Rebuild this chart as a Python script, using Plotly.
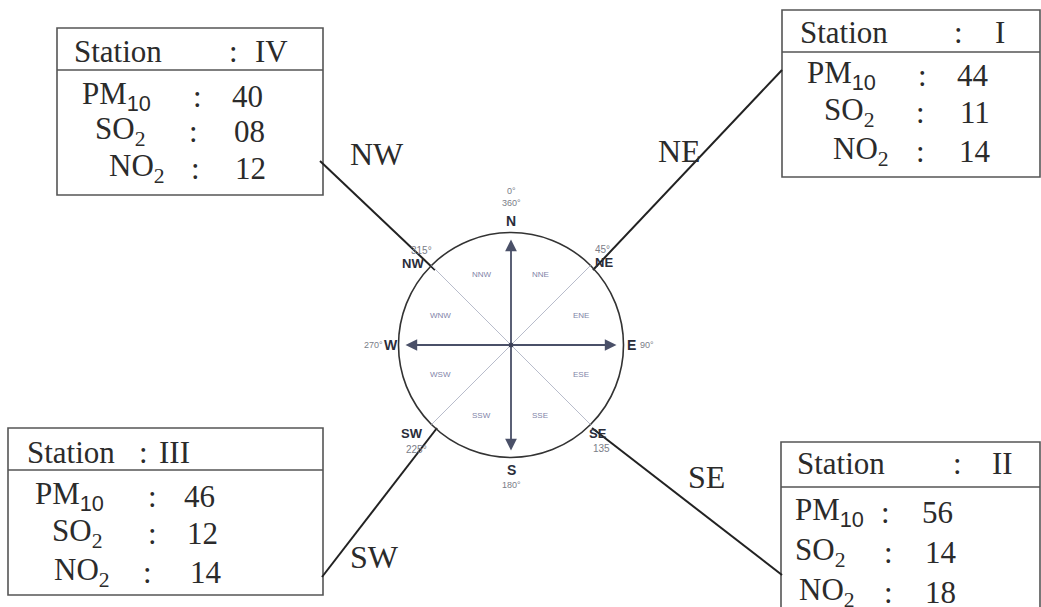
import math
import plotly.graph_objects as go

# ---------------- data ----------------
stations = ["I", "II", "III", "IV"]
directions = ["NE", "SE", "SW", "NW"]
pm10 = [44, 56, 46, 40]
so2 = [11, 14, 12, 8]
no2 = [14, 18, 14, 12]

cardinal_labels = ["N", "E", "S", "W"]
cardinal_bearings = [0, 90, 180, 270]
cardinal_degree_text = ["0°<br>360°", "90°", "180°", "270°"]
intercardinal_labels = ["NE", "SE", "SW", "NW"]
intercardinal_bearings = [45, 135, 225, 315]
intercardinal_degree_text = ["45°", "135", "225°", "315°"]
sector_labels = ["NNE", "ENE", "ESE", "SSE", "SSW", "WSW", "WNW", "NNW"]
sector_bearings = [22.5, 67.5, 112.5, 157.5, 202.5, 247.5, 292.5, 337.5]

# ---------------- layout (positions / styles) ----------------
W, H = 1041, 607
CX, CY, R = 511, 345, 112.5
SERIF = "Liberation Serif, Times New Roman, serif"
SANS = "Liberation Sans, Arial, sans-serif"
INK = "#2b2b2b"
BOX = "#555555"

box_geo = {
    "I":   dict(rect=(782, 10, 1040, 177), hline=52,
                head=(798, 958, 993, 32),
                rows=[(805, 922, 955, 75), (822, 920, 958, 112), (831, 920, 957, 151)],
                link=((782, 70), (593, 270)), dlab=(679, 151)),
    "II":  dict(rect=(781, 442, 1040, 640), hline=487,
                head=(795, 957, 990, 463),
                rows=[(793, 885, 920, 512), (793, 888, 923, 552), (797, 888, 923, 592)],
                link=((782, 575), (592, 428)), dlab=(706, 477)),
    "III": dict(rect=(8, 428, 323, 595), hline=470,
                head=(25, 143, 157, 452),
                rows=[(33, 152, 182, 496), (50, 152, 185, 533), (52, 147, 188, 572)],
                link=((322, 577), (437, 428)), dlab=(374, 557)),
    "IV":  dict(rect=(57, 28, 323, 195), hline=70,
                head=(72, 233, 253, 51),
                rows=[(80, 197, 230, 96), (93, 193, 232, 131), (107, 195, 233, 168)],
                link=((320, 161), (435, 270)), dlab=(377, 154)),
}

FS = 31
sub = lambda s: "<sub>" + s + "</sub>"
pollutant_names = ["PM" + "<sub><span style='font-family:Liberation Sans'>10</span></sub>",
                   "SO" + sub("2"), "NO" + sub("2")]

fig = go.Figure()
fig.add_trace(go.Scatter(x=[0, W], y=[0, H], mode="markers",
                         marker=dict(opacity=0), hoverinfo="skip", showlegend=False))

shapes = []
ann = []


def polar(bearing, rad):
    t = math.radians(bearing)
    return CX + rad * math.sin(t), CY - rad * math.cos(t)


# ---- station boxes ----
for i, st in enumerate(stations):
    g = box_geo[st]
    x0, y0, x1, y1 = g["rect"]
    shapes.append(dict(type="rect", xref="x", yref="y", x0=x0, y0=y0, x1=x1, y1=y1,
                       line=dict(color=BOX, width=1.6), fillcolor="rgba(0,0,0,0)"))
    shapes.append(dict(type="line", xref="x", yref="y", x0=x0, x1=x1, y0=g["hline"], y1=g["hline"],
                       line=dict(color=BOX, width=1.6)))
    hx, hc, hv, hy = g["head"]
    ann.append(dict(x=hx, y=hy, text="Station", xanchor="left"))
    ann.append(dict(x=hc, y=hy, text=":", xanchor="center"))
    ann.append(dict(x=hv, y=hy, text=st, xanchor="left"))
    vals = [f"{pm10[i]:02d}", f"{so2[i]:02d}", f"{no2[i]:02d}"]
    for (lx, cx_, vx, ry), name, v in zip(g["rows"], pollutant_names, vals):
        ann.append(dict(x=lx, y=ry, text=name, xanchor="left"))
        ann.append(dict(x=cx_, y=ry, text=":", xanchor="center"))
        ann.append(dict(x=vx, y=ry, text=v, xanchor="left"))
    (ax0, ay0), (ax1, ay1) = g["link"]
    shapes.append(dict(type="line", xref="x", yref="y", x0=ax0, y0=ay0, x1=ax1, y1=ay1,
                       line=dict(color="#222222", width=2)))
    dx, dy = g["dlab"]
    ann.append(dict(x=dx, y=dy, text=directions[i], xanchor="center", size=32))

for a in ann:
    size = a.pop("size", FS)
    a.update(xref="x", yref="y", yanchor="middle", showarrow=False,
             font=dict(family=SERIF, size=size, color=INK))

# ---- compass ----
shapes.append(dict(type="circle", xref="x", yref="y", x0=CX - R, x1=CX + R, y0=CY - R, y1=CY + R,
                   line=dict(color="#333333", width=1.6)))
for b in intercardinal_bearings:
    px, py = polar(b, R)
    shapes.append(dict(type="line", xref="x", yref="y", x0=CX, y0=CY, x1=px, y1=py,
                       line=dict(color="#b8bccb", width=1)))
for b in cardinal_bearings:
    px, py = polar(b, R - 7)
    ann.append(dict(x=px, y=py, ax=CX, ay=CY, xref="x", yref="y", axref="x", ayref="y",
                    text="", showarrow=True, arrowhead=2, arrowsize=1.3, arrowwidth=1.8,
                    arrowcolor="#4a5068", font=dict(size=10)))
shapes.append(dict(type="circle", xref="x", yref="y", x0=CX - 2.5, x1=CX + 2.5, y0=CY - 2.5, y1=CY + 2.5,
                   fillcolor="#3a3f55", line=dict(width=0)))

lab_font = dict(family=SANS, size=14, color="#2a2d3a")
deg_font = dict(family=SANS, size=9, color="#7a7d88")
for lab, b, dtxt in zip(cardinal_labels, cardinal_bearings, cardinal_degree_text):
    rad = R + (12 if b % 180 == 0 else 8)
    px, py = polar(b, rad)
    ann.append(dict(x=px, y=py, text="<b>" + lab + "</b>", showarrow=False, font=lab_font,
                    xref="x", yref="y", xanchor="center", yanchor="middle"))
    if b == 0:
        ann.append(dict(x=px, y=py - 11, text=dtxt, showarrow=False, font=deg_font,
                        xref="x", yref="y", xanchor="center", yanchor="bottom"))
    elif b == 180:
        ann.append(dict(x=px, y=py + 8, text=dtxt, showarrow=False, font=deg_font,
                        xref="x", yref="y", xanchor="center", yanchor="top"))
    elif b == 90:
        ann.append(dict(x=px + 6, y=py, text=dtxt, showarrow=False, font=deg_font,
                        xref="x", yref="y", xanchor="left", yanchor="middle"))
    else:
        ann.append(dict(x=px - 6, y=py, text=dtxt, showarrow=False, font=deg_font,
                        xref="x", yref="y", xanchor="right", yanchor="middle"))

inter_pos = {"NE": ((604, 262), (602, 249)), "SE": ((598, 433), (601, 448)),
             "SW": ((412, 433), (416, 449)), "NW": ((413, 263), (421, 250))}
for lab, dtxt in zip(intercardinal_labels, intercardinal_degree_text):
    (lx, ly), (dx, dy) = inter_pos[lab]
    ann.append(dict(x=lx, y=ly, text="<b>" + lab + "</b>", showarrow=False,
                    font=dict(family=SANS, size=13, color="#2a2d3a"),
                    xref="x", yref="y", xanchor="center", yanchor="middle"))
    ann.append(dict(x=dx, y=dy, text=dtxt, showarrow=False, font=dict(family=SANS, size=10, color="#7a7d88"),
                    xref="x", yref="y", xanchor="center", yanchor="middle"))

for lab, b in zip(sector_labels, sector_bearings):
    px, py = polar(b, 76)
    ann.append(dict(x=px, y=py, text=lab, showarrow=False,
                    font=dict(family=SANS, size=8, color="#7f84a8"),
                    xref="x", yref="y", xanchor="center", yanchor="middle"))

fig.update_layout(
    width=W, height=H, margin=dict(l=0, r=0, t=0, b=0),
    paper_bgcolor="white", plot_bgcolor="white",
    xaxis=dict(range=[0, W], visible=False, fixedrange=True),
    yaxis=dict(range=[H, 0], visible=False, fixedrange=True),
    shapes=shapes, annotations=ann, showlegend=False,
)
fig.write_html("out.html", config={"displayModeBar": False},
               post_script="document.body.style.margin='0';document.body.style.overflow='hidden';")
